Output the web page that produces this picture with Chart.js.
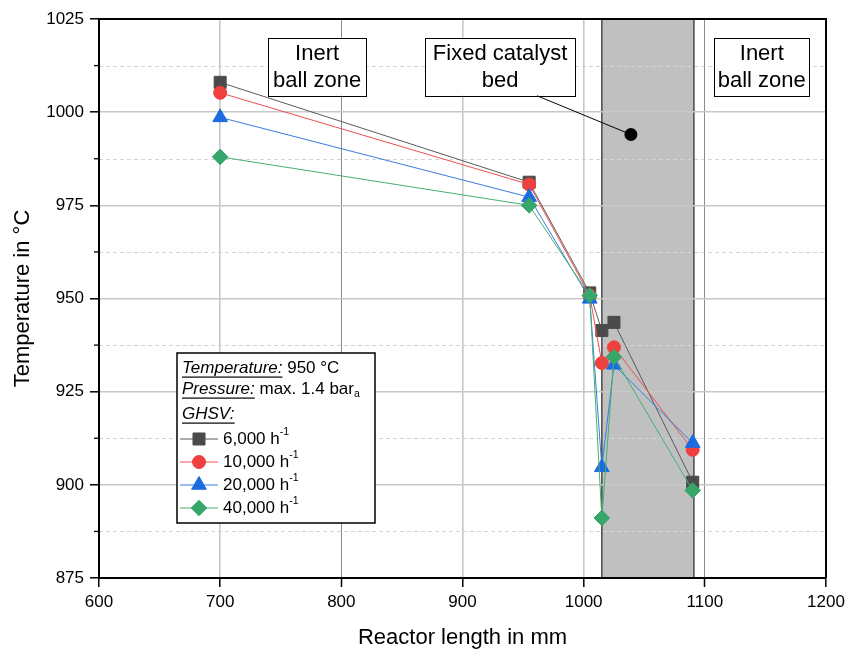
<!DOCTYPE html>
<html>
<head>
<meta charset="utf-8">
<script src="https://cdn.jsdelivr.net/npm/chart.js@4.4.1/dist/chart.umd.min.js"></script>
<style>
  html, body { margin: 0; padding: 0; background: #fff; }
  #wrap { width: 849px; height: 651px; }
</style>
</head>
<body>
<div id="wrap"><canvas id="myChart" width="849" height="651"></canvas></div>
<script>
// reactor position (mm) of each thermocouple
const reactorLength = [700, 955, 1005, 1015, 1025, 1090];

// temperature (°C) for each GHSV
const temp6000 = [1008.0, 981.2, 951.5, 941.4, 943.6, 900.7];
const temp10000 = [1005.2, 980.6, 950.8, 932.7, 936.9, 909.4];
const temp20000 = [998.6, 977.2, 949.9, 904.7, 932.2, 911.2];
const temp40000 = [988.0, 975.0, 950.8, 891.1, 934.3, 898.5];

const ghsvLabels = ['6,000', '10,000', '20,000', '40,000'];
const minorTicksY = [887.5, 912.5, 937.5, 962.5, 987.5, 1012.5];

// zones
const catalystBed = [1015, 1091];
const zoneTexts = [['Inert', 'ball zone'], ['Fixed catalyst', 'bed'], ['Inert', 'ball zone']];
const zoneCenterX = [780, 931, 1147];
const zoneTopY = 1020;
const leaderFrom = [961.5, 1004.4];
const leaderTo = [1039, 994];

const FONT = '"Liberation Sans", Arial, sans-serif';
const colors = ['#4a4a4a', '#ef4040', '#1c6be0', '#36a66b'];
const lineColors = ['#5a5a5a', '#f05050', '#3a7de0', '#45b070'];
const styles = ['rect', 'circle', 'triangle', 'rectRot'];
const radii = [8.5, 6.5, 8.5, 7.8];

function makeSet(i, values) {
    return {
        label: ghsvLabels[i],
        data: reactorLength.map((x, k) => ({ x: x, y: values[k] })),
        borderColor: lineColors[i],
        backgroundColor: colors[i],
        pointBackgroundColor: colors[i],
        pointBorderColor: colors[i],
        pointStyle: styles[i],
        pointRadius: radii[i],
        pointBorderWidth: 1,
        borderWidth: 1,
        tension: 0,
        order: 4 - i // later series drawn on top
    };
}

function richText(ctx, parts, x, y, size) {
    //斜体・下線・上付き・下付きの文字を描く
    let cx = x;
    parts.forEach(p => {
        let fs = size, dy = 0;
        if (p.sup) { fs = size * 0.62; dy = -size * 0.42; }
        if (p.sub) { fs = size * 0.62; dy = size * 0.3; }
        ctx.font = (p.italic ? 'italic ' : '') + fs + 'px ' + FONT;
        ctx.fillText(p.t, cx, y + dy);
        const w = ctx.measureText(p.t).width;
        if (p.underline) {
            ctx.fillRect(cx, y + size * 0.5, w, 1.2);
        }
        cx += w;
    });
}

const chartPlugin = {
    id: 'reactorDecor',
    beforeDraw(chart) {
        const { ctx, chartArea: a, scales: { x, y } } = chart;
        ctx.save();
        ctx.fillStyle = '#fff';
        ctx.fillRect(0, 0, chart.width, chart.height);
        const x0 = x.getPixelForValue(catalystBed[0]);
        const x1 = x.getPixelForValue(catalystBed[1]);
        ctx.fillStyle = '#c0c0c0';
        ctx.fillRect(x0, a.top, x1 - x0, a.bottom - a.top);
        // minor dashed grid
        ctx.strokeStyle = '#d4d4d4';
        ctx.lineWidth = 1;
        ctx.setLineDash([4, 3]);
        minorTicksY.forEach(v => {
            const py = Math.round(y.getPixelForValue(v)) + 0.5;
            ctx.beginPath();
            ctx.moveTo(a.left, py);
            ctx.lineTo(a.right, py);
            ctx.stroke();
        });
        ctx.setLineDash([]);
        ctx.strokeStyle = '#333';
        ctx.lineWidth = 1.3;
        [x0, x1].forEach(px => {
            ctx.beginPath();
            ctx.moveTo(px, a.top);
            ctx.lineTo(px, a.bottom);
            ctx.stroke();
        });
        ctx.restore();
    },
    afterDatasetsDraw(chart) {
        const { ctx, scales: { x, y } } = chart;
        ctx.save();
        const boxW = [98, 150, 95];
        const boxH = 58;
        const top = y.getPixelForValue(zoneTopY);
        zoneTexts.forEach((lines, i) => {
            const cx = x.getPixelForValue(zoneCenterX[i]);
            const left = Math.round(cx - boxW[i] / 2) + 0.5;
            ctx.fillStyle = '#fff';
            ctx.fillRect(left, top, boxW[i], boxH);
            ctx.strokeStyle = '#000';
            ctx.lineWidth = 1;
            ctx.strokeRect(left, Math.round(top) + 0.5, boxW[i], boxH);
            ctx.fillStyle = '#000';
            ctx.font = '22px ' + FONT;
            ctx.textAlign = 'center';
            ctx.textBaseline = 'middle';
            lines.forEach((t, k) => {
                ctx.fillText(t, cx, top + 16 + k * 27);
            });
        });
        // leader line to the catalyst bed
        const fx = x.getPixelForValue(leaderFrom[0]), fy = y.getPixelForValue(leaderFrom[1]);
        const tx = x.getPixelForValue(leaderTo[0]), ty = y.getPixelForValue(leaderTo[1]);
        ctx.strokeStyle = '#000';
        ctx.lineWidth = 1;
        ctx.beginPath();
        ctx.moveTo(fx, fy);
        ctx.lineTo(tx, ty);
        ctx.stroke();
        ctx.fillStyle = '#000';
        ctx.beginPath();
        ctx.arc(tx, ty, 6.5, 0, Math.PI * 2);
        ctx.fill();
        ctx.restore();
    },
    afterDraw(chart) {
        const { ctx, chartArea: a, scales: { y } } = chart;
        ctx.save();
        // frame top / right
        ctx.strokeStyle = '#000';
        ctx.lineWidth = 2;
        ctx.beginPath();
        ctx.moveTo(a.left, a.top);
        ctx.lineTo(a.right, a.top);
        ctx.lineTo(a.right, a.bottom);
        ctx.stroke();
        // minor ticks on y axis
        ctx.lineWidth = 1.3;
        minorTicksY.forEach(v => {
            const py = y.getPixelForValue(v);
            ctx.beginPath();
            ctx.moveTo(a.left - 5, py);
            ctx.lineTo(a.left, py);
            ctx.stroke();
        });
        // legend box
        const lx = a.left + 78, ly = a.top + 334;
        ctx.fillStyle = '#fff';
        ctx.fillRect(lx, ly, 198, 170);
        ctx.lineWidth = 1.5;
        ctx.strokeRect(lx, ly, 198, 170);
        ctx.fillStyle = '#000';
        ctx.textAlign = 'left';
        ctx.textBaseline = 'middle';
        const fs = 17;
        richText(ctx, [{ t: 'Temperature:', italic: true, underline: true }, { t: ' 950 °C' }], lx + 5, ly + 15, fs);
        richText(ctx, [{ t: 'Pressure:', italic: true, underline: true }, { t: ' max. 1.4 bar' }, { t: 'a', sub: true }], lx + 5, ly + 36, fs);
        richText(ctx, [{ t: 'GHSV:', italic: true, underline: true }], lx + 5, ly + 61, fs);
        ghsvLabels.forEach((lab, i) => {
            const ry = ly + 86 + i * 23;
            ctx.strokeStyle = lineColors[i];
            ctx.lineWidth = 1;
            ctx.beginPath();
            ctx.moveTo(lx + 3, ry);
            ctx.lineTo(lx + 41, ry);
            ctx.stroke();
            ctx.fillStyle = colors[i];
            ctx.strokeStyle = colors[i];
            Chart.helpers.drawPoint(ctx, { pointStyle: styles[i], radius: radii[i], borderWidth: 1, rotation: 0 }, lx + 22, ry);
            ctx.fillStyle = '#000';
            richText(ctx, [{ t: lab + ' h' }, { t: '-1', sup: true }], lx + 46, ry, fs);
        });
        ctx.restore();
    }
};

const gridColor = ctx => (ctx.tick && (ctx.tick.value === 800 || ctx.tick.value === 1100)) ? '#8a8a8a' : '#c8c8c8';
const gridWidth = ctx => (ctx.tick && (ctx.tick.value === 800 || ctx.tick.value === 1100)) ? 1 : 1.6;
const plainTick = v => String(v);

const myChart = new Chart(document.getElementById('myChart').getContext('2d'), {
    type: 'line',
    data: {
        datasets: [
            makeSet(0, temp6000),
            makeSet(1, temp10000),
            makeSet(2, temp20000),
            makeSet(3, temp40000)
        ]
    },
    options: {
        responsive: false,
        animation: false,
        devicePixelRatio: 1,
        layout: { padding: { top: 19, right: 23, left: 0, bottom: 0 } },
        plugins: {
            legend: { display: false },
            tooltip: { enabled: false }
        },
        scales: {
            x: {
                type: 'linear',
                min: 600,
                max: 1200,
                ticks: { stepSize: 100, color: '#000', font: { family: FONT, size: 17 }, padding: 5, callback: plainTick },
                grid: { color: gridColor, lineWidth: gridWidth, tickColor: '#000', tickLength: 9, tickWidth: 1.5 },
                border: { color: '#000', width: 2 },
                title: { display: true, text: 'Reactor length in mm', color: '#000', font: { family: FONT, size: 22 }, padding: 0 },
                afterFit: s => { s.height = 73; s.paddingLeft = 0; s.paddingRight = 0; }
            },
            y: {
                min: 875,
                max: 1025,
                ticks: { stepSize: 25, color: '#000', font: { family: FONT, size: 17 }, padding: 6, callback: plainTick },
                grid: { color: '#c8c8c8', lineWidth: 1.6, tickColor: '#000', tickLength: 9, tickWidth: 1.5 },
                border: { color: '#000', width: 2 },
                title: { display: true, text: 'Temperature in °C', color: '#000', font: { family: FONT, size: 22 }, padding: { top: 10, bottom: 0 } },
                afterFit: s => { s.width = 99; s.paddingTop = 0; s.paddingBottom = 0; }
            }
        }
    },
    plugins: [chartPlugin]
});
</script>
</body>
</html>
